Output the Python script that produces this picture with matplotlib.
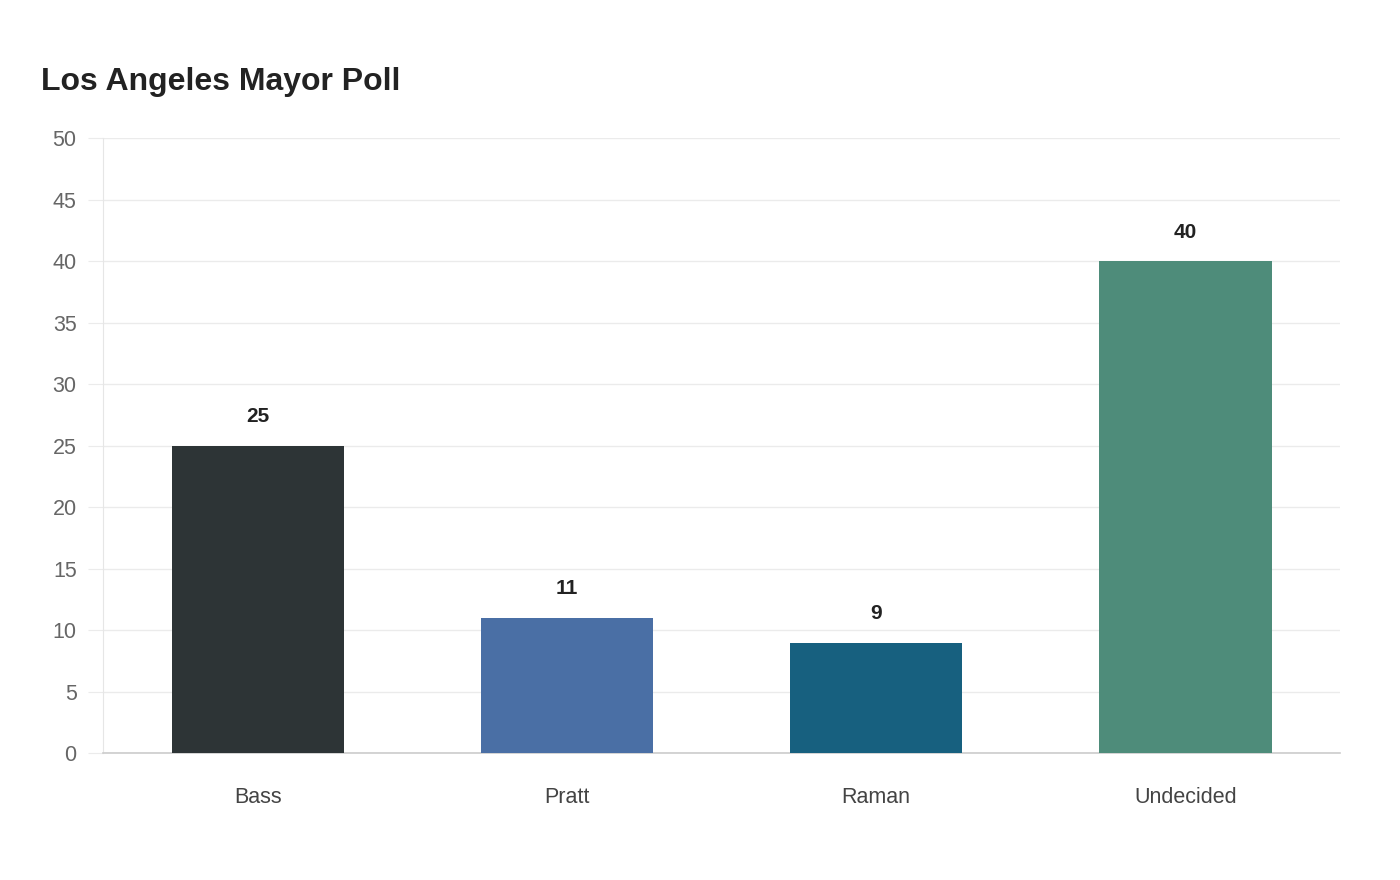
import matplotlib.pyplot as plt

plt.rcParams['font.family'] = ['Liberation Sans', 'DejaVu Sans']

# Poll data
candidates = ["Bass", "Pratt", "Raman", "Undecided"]
support = [25, 11, 9, 40]
colors = ["#2d3436", "#4a6fa5", "#17607f", "#4e8c7a"]
y_ticks = [0, 5, 10, 15, 20, 25, 30, 35, 40, 45, 50]

fig = plt.figure(figsize=(14, 8.8), dpi=100)
ax = fig.add_axes([0.0736, 0.144, 0.8836, 0.699])

x = range(len(candidates))
bars = ax.bar(x, support, width=0.557, color=colors, zorder=3)

for bar, val in zip(bars, support):
    ax.text(bar.get_x() + bar.get_width() / 2, val + 1.6, str(val),
            ha='center', va='bottom', fontsize=15, fontweight='bold', color='#222222')

ax.set_xlim(-0.5, len(candidates) - 0.5)
ax.set_ylim(0, 50)
ax.set_yticks(y_ticks)
ax.set_xticks(list(x))
ax.set_xticklabels(candidates)
ax.grid(axis='y', color='#ebebeb', linewidth=1, zorder=0)

ax.tick_params(axis='y', length=11, color='#ebebeb', labelsize=15.5, labelcolor='#666666', pad=8)
ax.tick_params(axis='x', length=0, labelsize=15.5, labelcolor='#444444', pad=24)

for side in ['top', 'right']:
    ax.spines[side].set_visible(False)
ax.spines['left'].set_color('#e6e6e6')
ax.spines['bottom'].set_color('#cccccc')
ax.spines['bottom'].set_linewidth(1.2)

fig.text(0.029, 0.907, "Los Angeles Mayor Poll", fontsize=23, fontweight='bold',
         color='#222222', ha='left', va='center')

fig.savefig("out.png", dpi=100, facecolor='white')
